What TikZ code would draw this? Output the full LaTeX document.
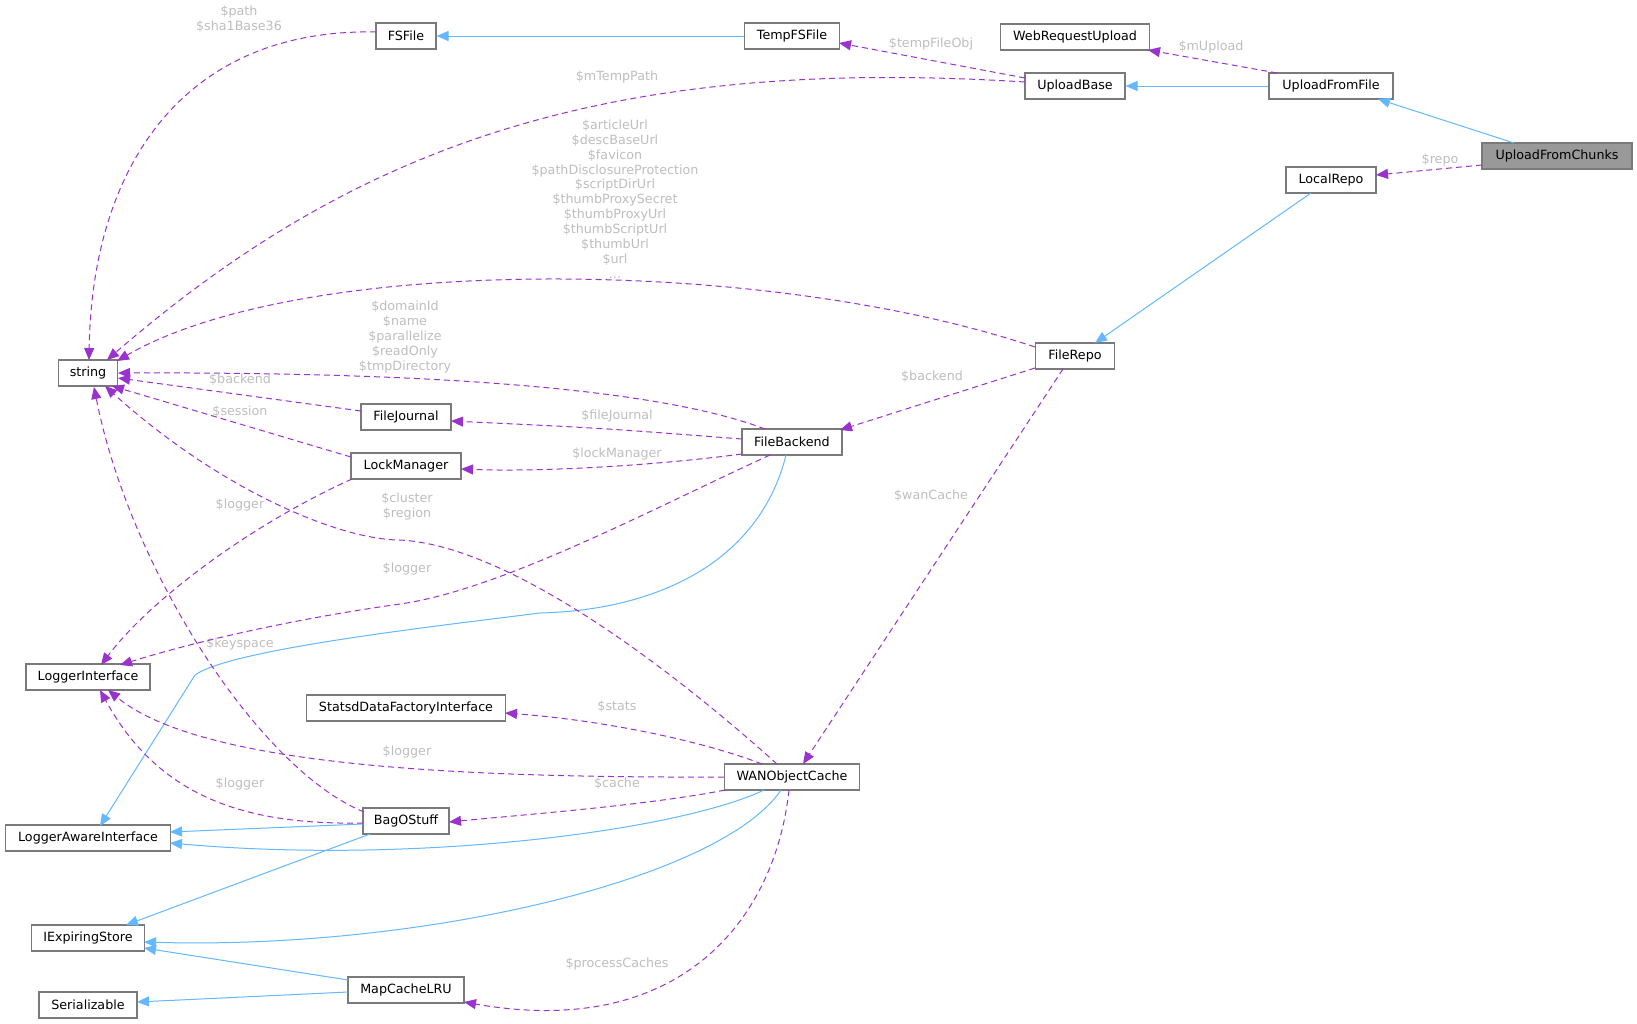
\documentclass[tikz,border=0pt]{standalone}
\usepackage{fontspec}
\setmainfont{DejaVu Sans}
\usetikzlibrary{arrows.meta,calc}
\definecolor{edgeblue}{HTML}{63B8FF}
\definecolor{edgepurple}{HTML}{9A32CD}
\definecolor{boxgray}{HTML}{7A7A7A}
\definecolor{labelgray}{HTML}{BEBEBE}
\definecolor{hilite}{HTML}{999999}
\begin{document}
\begin{tikzpicture}[x=1pt,y=-1pt,
 every node/.style={font=\fontsize{12.7}{15}\selectfont},
 cls/.style={draw=boxgray, line width=1.1pt, fill=white, minimum height=26pt, inner sep=0pt, text=black},
 inh/.style={draw=edgeblue, line width=1pt, -{Triangle[length=12pt,width=10pt]}},
 use/.style={draw=edgepurple, line width=1pt, dash pattern=on 6pt off 4pt, -{Triangle[length=12pt,width=10pt]}},
 lbl/.style={text=labelgray, align=center, inner sep=0pt}]
\useasboundingbox[fill=white] (0,0) rectangle (1637,1023);

% nodes
\node[cls, minimum width=60pt]  (FSFile) at (406,36) {FSFile};
\node[cls, minimum width=95pt]  (TempFSFile) at (792,36) {TempFSFile};
\node[cls, minimum width=149pt] (WebRequestUpload) at (1075,37) {WebRequestUpload};
\node[cls, minimum width=100pt] (UploadBase) at (1075,86) {UploadBase};
\node[cls, minimum width=124pt] (UploadFromFile) at (1331,86) {UploadFromFile};
\node[cls, minimum width=150pt, fill=hilite] (UploadFromChunks) at (1557,156) {UploadFromChunks};
\node[cls, minimum width=90pt]  (LocalRepo) at (1331,180) {LocalRepo};
\node[cls, minimum width=79pt]  (FileRepo) at (1075,356) {FileRepo};
\node[cls, minimum width=59pt]  (string) at (88,373) {string};
\node[cls, minimum width=90pt]  (FileJournal) at (406,417) {FileJournal};
\node[cls, minimum width=110pt] (LockManager) at (406,466) {LockManager};
\node[cls, minimum width=100pt] (FileBackend) at (792,442) {FileBackend};
\node[cls, minimum width=124pt] (LoggerInterface) at (88,677) {LoggerInterface};
\node[cls, minimum width=199pt] (Statsd) at (406,708) {StatsdDataFactoryInterface};
\node[cls, minimum width=135pt] (WANObjectCache) at (792,777) {WANObjectCache};
\node[cls, minimum width=86pt]  (BagOStuff) at (406,821) {BagOStuff};
\node[cls, minimum width=165pt] (LoggerAwareInterface) at (88,838) {LoggerAwareInterface};
\node[cls, minimum width=113pt] (IExpiringStore) at (88,938) {IExpiringStore};
\node[cls, minimum width=116pt] (MapCacheLRU) at (406,990) {MapCacheLRU};
\node[cls, minimum width=98pt]  (Serializable) at (88,1005) {Serializable};

% inheritance edges
\draw[inh] (TempFSFile.west) -- (FSFile.east);
\draw[inh] (UploadFromFile.west) -- (UploadBase.east);
\draw[inh] ($(UploadFromChunks)+(-43,-13)$) -- ($(UploadFromFile)+(47,13)$);
\draw[inh] ($(LocalRepo)+(-20,13)$) -- ($(FileRepo)+(20,-13)$);
\draw[inh] ($(FileBackend)+(-6,13)$) .. controls (760,560) and (660,610) .. (540,613)
   .. controls (420,628) and (230,650) .. (195,675) -- ($(LoggerAwareInterface)+(12,-12)$);
\draw[inh] ($(BagOStuff)+(-43,3)$) -- ($(LoggerAwareInterface)+(82,-6)$);
\draw[inh] ($(WANObjectCache)+(-28,13)$) .. controls (680,830) and (420,865) .. ($(LoggerAwareInterface)+(82,5)$);
\draw[inh] ($(BagOStuff)+(-36,13)$) -- ($(IExpiringStore)+(38,-13)$);
\draw[inh] ($(WANObjectCache)+(-11,13)$) .. controls (720,880) and (420,950) .. ($(IExpiringStore)+(56,4)$);
\draw[inh] ($(MapCacheLRU)+(-58,-10)$) -- ($(IExpiringStore)+(56,10)$);
\draw[inh] ($(MapCacheLRU)+(-58,2)$) -- ($(Serializable)+(49,-3)$);

% usage edges
\draw[use] ($(UploadBase)+(-50,-8)$) -- ($(TempFSFile)+(47,7)$);
\node[lbl] at (931,44) {\$tempFileObj};
\draw[use] ($(UploadFromFile)+(-54,-13)$) -- ($(WebRequestUpload)+(73,13)$);
\node[lbl] at (1211,47) {\$mUpload};
\draw[use] ($(UploadFromChunks)+(-75,9)$) -- ($(LocalRepo)+(45,-5)$);
\node[lbl] at (1440,160) {\$repo};

\draw[use] ($(FSFile)+(-30,-4)$) .. controls (185,28) and (92,165) .. ($(string)+(1,-13)$);
\node[lbl] at (239,19) {\$path\\\$sha1Base36};

\draw[use] ($(UploadBase)+(-50,-4)$) .. controls (600,55) and (350,150) .. ($(string)+(19,-13)$);
\node[lbl] at (617,77) {\$mTempPath};

\draw[use] ($(FileRepo)+(-40,-9)$) .. controls (760,255) and (300,255) .. ($(string)+(29,-12)$);
\node[lbl, font=\fontsize{12.7}{14.9}\selectfont] at (615,199) {\$articleUrl\\\$descBaseUrl\\\$favicon\\\$pathDisclosureProtection\\\$scriptDirUrl\\\$thumbProxySecret\\\$thumbProxyUrl\\\$thumbScriptUrl\\\$thumbUrl\\\$url\\...};

\draw[use] ($(FileBackend)+(-27,-13)$) .. controls (650,385) and (400,372) .. ($(string)+(30,0)$);
\node[lbl] at (405,337) {\$domainId\\\$name\\\$parallelize\\\$readOnly\\\$tmpDirectory};

\draw[use] ($(FileJournal)+(-45,-6)$) -- ($(string)+(30,5)$);
\node[lbl] at (240,380) {\$backend};

\draw[use] ($(LockManager)+(-55,-9)$) -- ($(string)+(24,13)$);
\node[lbl] at (240,412) {\$session};

\draw[use] ($(WANObjectCache)+(-15,-13)$) .. controls (650,650) and (500,545) .. (400,540)
   .. controls (340,540) and (220,490) .. ($(string)+(17,13)$);
\node[lbl] at (407,506) {\$cluster\\\$region};

\draw[use] ($(BagOStuff)+(-42,-9)$) .. controls (260,770) and (130,570) .. ($(string)+(6,14)$);
\node[lbl] at (240,644) {\$keyspace};

\draw[use] ($(FileBackend)+(-50,-3)$) .. controls (600,428) .. ($(FileJournal)+(45,4)$);
\node[lbl] at (617,416) {\$fileJournal};

\draw[use] ($(FileBackend)+(-50,12)$) .. controls (650,466) and (540,472) .. ($(LockManager)+(55,3)$);
\node[lbl] at (617,454) {\$lockManager};

\draw[use] ($(LockManager)+(-54,13)$) .. controls (250,525) and (150,600) .. ($(LoggerInterface)+(13,-12)$);
\node[lbl] at (240,505) {\$logger};

\draw[use] ($(FileBackend)+(-22,13)$) .. controls (650,510) and (500,590) .. (400,604)
   .. controls (300,618) and (200,640) .. ($(LoggerInterface)+(32,-12)$);
\node[lbl] at (407,569) {\$logger};

\draw[use] ($(WANObjectCache)+(-30,-13)$) .. controls (700,740) and (600,720) .. ($(Statsd)+(99,5)$);
\node[lbl] at (617,707) {\$stats};

\draw[use] (WANObjectCache.west) .. controls (450,778) and (200,765) .. ($(LoggerInterface)+(20,13)$);
\node[lbl] at (407,752) {\$logger};

\draw[use] ($(BagOStuff)+(-43,2)$) .. controls (250,825) and (160,800) .. ($(LoggerInterface)+(12,13)$);
\node[lbl] at (240,784) {\$logger};

\draw[use] ($(WANObjectCache)+(-67,13)$) .. controls (650,805) and (520,815) .. ($(BagOStuff)+(43,1)$);
\node[lbl] at (617,784) {\$cache};

\draw[use] ($(WANObjectCache)+(-3,13)$) .. controls (775,920) and (680,1040) .. ($(MapCacheLRU)+(58,12)$);
\node[lbl] at (617,964) {\$processCaches};

\draw[use] ($(FileRepo)+(-40,12)$) -- ($(FileBackend)+(48,-12)$);
\node[lbl] at (932,377) {\$backend};

\draw[use] ($(FileRepo)+(-12,13)$) -- ($(WANObjectCache)+(11,-13)$);
\node[lbl] at (931,496) {\$wanCache};
\end{tikzpicture}
\end{document}
